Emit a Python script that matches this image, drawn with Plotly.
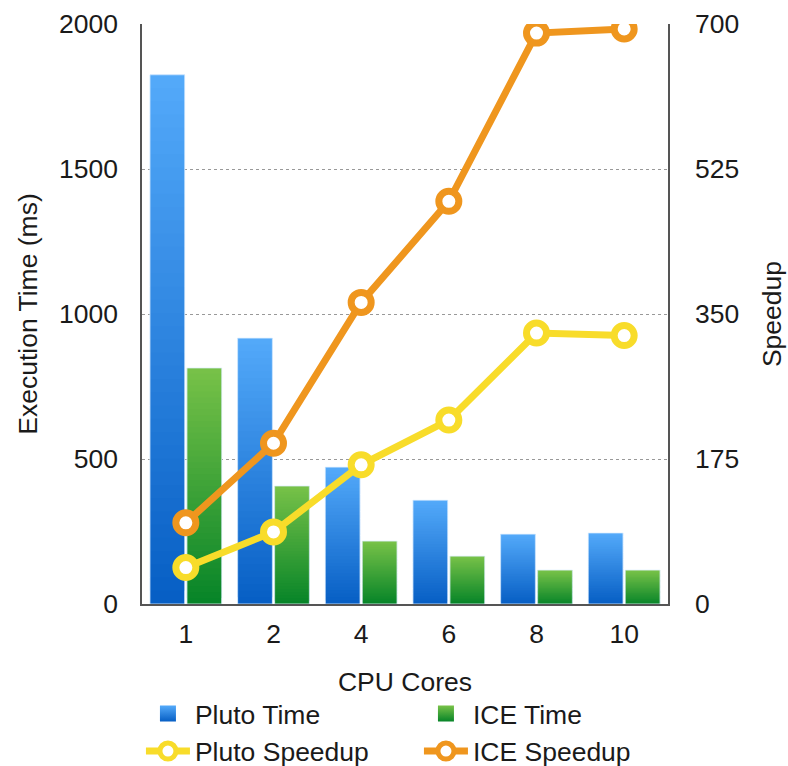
import plotly.graph_objects as go

cores = ["1", "2", "4", "6", "8", "10"]
pluto_time = [1825, 917, 472, 358, 241, 245]
ice_time = [814, 407, 217, 165, 117, 117]
pluto_speedup = [44, 87, 168, 222, 327, 324]
ice_speedup = [98, 194, 364, 486, 689, 694]

left_ticks = [0, 500, 1000, 1500, 2000]
right_ticks = [0, 175, 350, 525, 700]

FONT = "Liberation Sans, Arial, Helvetica, sans-serif"
FS = 26.5
N = 40


def lerp(c1, c2, t):
    return "rgb(%d,%d,%d)" % tuple(round(a + (b - a) * t) for a, b in zip(c1, c2))


fig = go.Figure()


def add_gradient_bars(name, values, bottom, top, rank):
    for k in range(N):
        t = (k + 0.5) / N
        seg = [v / N * (2.0 if k < N - 1 else 1.0) for v in values]
        base = [v * k / N for v in values]
        fig.add_trace(go.Bar(
            x=cores, y=seg, base=base, offsetgroup=name, name=name,
            legendgroup=name, showlegend=False,
            marker=dict(color=lerp(bottom, top, t), line=dict(width=0)),
            hoverinfo="skip",
        ))
    fig.add_trace(go.Bar(
        x=cores, y=values, offsetgroup=name, name=name, legendgroup=name,
        showlegend=False,
        marker=dict(color="rgba(0,0,0,0)",
                    line=dict(width=1, color="rgba(225,240,255,0.8)")),
    ))
    # legend entry (square swatch)
    fig.add_trace(go.Scatter(
        x=[None], y=[None], mode="markers", name=name, legendgroup=name,
        legendrank=rank,
        marker=dict(symbol="square", size=16, color=lerp(bottom, top, 1.0),
                    gradient=dict(type="vertical", color=lerp(bottom, top, 0.0)),
                    line=dict(width=0)),
    ))


add_gradient_bars("Pluto Time", pluto_time, (6, 94, 196), (84, 170, 250), 1)
add_gradient_bars("ICE Time", ice_time, (6, 132, 40), (120, 194, 72), 2)

fig.add_trace(go.Scatter(
    x=cores, y=pluto_speedup, name="Pluto Speedup", yaxis="y2", legendrank=3,
    mode="lines+markers",
    line=dict(color="#F8DC2A", width=7),
    marker=dict(size=20, color="white", line=dict(color="#F8DC2A", width=7)),
))
fig.add_trace(go.Scatter(
    x=cores, y=ice_speedup, name="ICE Speedup", yaxis="y2", legendrank=4,
    mode="lines+markers",
    line=dict(color="#EF961E", width=7),
    marker=dict(size=20, color="white", line=dict(color="#EF961E", width=7)),
))

fig.update_layout(
    width=788, height=766,
    margin=dict(l=142, r=120, t=24, b=162, autoexpand=False),
    paper_bgcolor="white", plot_bgcolor="white",
    font=dict(family=FONT, size=FS, color="#1a1a1a"),
    barmode="group", bargap=0.156, bargroupgap=0.06,
    showlegend=True,
    legend=dict(orientation="h", x=-0.002, xanchor="left", y=-0.148,
                yanchor="top", entrywidth=219, entrywidthmode="pixels",
                itemwidth=44,
                font=dict(size=FS), tracegroupgap=0, itemsizing="trace",
                bgcolor="rgba(0,0,0,0)"),
    xaxis=dict(type="category", showline=True, linecolor="#555555",
               linewidth=1.5, showgrid=False, ticks="", ticklabelstandoff=5,
               title=dict(text="CPU Cores", standoff=25,
                          font=dict(size=FS))),
    yaxis=dict(range=[0, 2000], tickvals=left_ticks, showline=True,
               linecolor="#555555", linewidth=1.5, showgrid=True,
               gridcolor="#999999", griddash="dot", gridwidth=1,
               zeroline=False, ticks="", ticklabelstandoff=17,
               title=dict(text="Execution Time (ms)", standoff=14,
                          font=dict(size=FS))),
    yaxis2=dict(range=[0, 700], tickvals=right_ticks, overlaying="y",
                side="right", showline=True, linecolor="#555555",
                linewidth=1.5, showgrid=False, zeroline=False, ticks="",
                ticklabelstandoff=20,
                title=dict(text="Speedup", standoff=24, font=dict(size=FS))),
)

fig.write_html("out.html")
